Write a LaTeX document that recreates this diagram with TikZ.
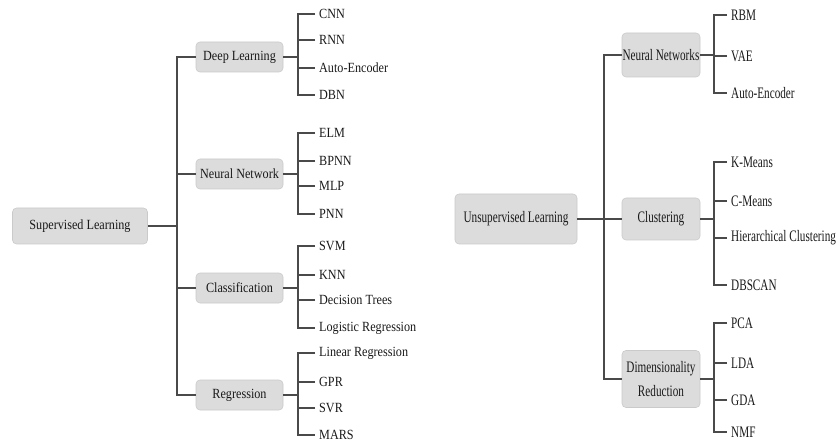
\documentclass[tikz,border=0pt]{standalone}
\usepackage{fontspec}
\setmainfont{Liberation Serif}
\newfontfamily\supfont[FakeStretch=0.87]{Liberation Serif}
\newfontfamily\unsupfont[FakeStretch=0.7]{Liberation Serif}
\definecolor{boxgray}{HTML}{DCDCDC}
\definecolor{linegray}{HTML}{4A4A4A}
\tikzset{%
  catbox/.style  = {shape=rectangle, rounded corners=4pt,%
                    fill=boxgray, draw=boxgray!92!black, line width=0.6pt,%
                    align=center, inner sep=0pt, text=black!90},%
  suproot/.style = {catbox, minimum width=135pt, minimum height=36pt},%
  supcat/.style  = {catbox, minimum width=87pt, minimum height=30pt},%
  unsroot/.style = {catbox, minimum width=122pt, minimum height=50pt},%
  unscat/.style  = {catbox, minimum width=78pt},%
  leaf/.style    = {anchor=west, inner sep=4pt, text=black!90},%
  link/.style    = {draw=linegray, line width=1.5pt}%
}

\begin{document}
\begin{tikzpicture}[x=1pt,y=-1pt]
  \useasboundingbox (0,0) rectangle (837,446);

  % supervised side
  \begin{scope}[font=\supfont\fontsize{14}{16}\selectfont]
    \node [suproot] (sup) at (80,226) {Supervised Learning};
    \node [supcat] (deep) at (239.5,57)  {Deep Learning};
    \node [supcat] (nnet) at (239.5,174) {Neural Network};
    \node [supcat] (clas) at (239.5,288) {Classification};
    \node [supcat] (regr) at (239.5,395) {Regression};
    \coordinate (sspine) at (177,0);
    \coordinate (dspine) at (298,0);

    \node [leaf] (cnn)  at (315,14)  {CNN};
    \node [leaf] (rnn)  at (315,40)  {RNN};
    \node [leaf] (aenc) at (315,68)  {Auto-Encoder};
    \node [leaf] (dbn)  at (315,95)  {DBN};
    \node [leaf] (elm)  at (315,133) {ELM};
    \node [leaf] (bpnn) at (315,161) {BPNN};
    \node [leaf] (mlp)  at (315,186) {MLP};
    \node [leaf] (pnn)  at (315,214) {PNN};
    \node [leaf] (svm)  at (315,246) {SVM};
    \node [leaf] (knn)  at (315,275) {KNN};
    \node [leaf] (dtree) at (315,300) {Decision Trees};
    \node [leaf] (logr) at (315,328) {Logistic Regression};
    \node [leaf] (linr) at (315,353) {Linear Regression};
    \node [leaf] (gpr)  at (315,382) {GPR};
    \node [leaf] (svr)  at (315,408) {SVR};
    \node [leaf] (mars) at (315,435) {MARS};
  \end{scope}

  \draw [link] (sup.east) -- (sspine |- sup.east);
  \draw [link] (deep.west) -| (sspine |- regr.west) -- (regr.west);
  \draw [link] (nnet.west) -- (sspine |- nnet.west);
  \draw [link] (clas.west) -- (sspine |- clas.west);

  \draw [link] (deep.east) -- (dspine |- deep.east);
  \draw [link] (cnn.west) -| (dspine |- dbn.west) -- (dbn.west);
  \draw [link] (rnn.west) -- (dspine |- rnn.west);
  \draw [link] (aenc.west) -- (dspine |- aenc.west);

  \draw [link] (nnet.east) -- (dspine |- nnet.east);
  \draw [link] (elm.west) -| (dspine |- pnn.west) -- (pnn.west);
  \draw [link] (bpnn.west) -- (dspine |- bpnn.west);
  \draw [link] (mlp.west) -- (dspine |- mlp.west);

  \draw [link] (clas.east) -- (dspine |- clas.east);
  \draw [link] (svm.west) -| (dspine |- logr.west) -- (logr.west);
  \draw [link] (knn.west) -- (dspine |- knn.west);
  \draw [link] (dtree.west) -- (dspine |- dtree.west);

  \draw [link] (regr.east) -- (dspine |- regr.east);
  \draw [link] (linr.west) -| (dspine |- mars.west) -- (mars.west);
  \draw [link] (gpr.west) -- (dspine |- gpr.west);
  \draw [link] (svr.west) -- (dspine |- svr.west);

  % unsupervised side
  \begin{scope}[font=\unsupfont\fontsize{16}{24}\selectfont]
    \node [unsroot] (uns) at (516,219) {Unsupervised Learning};
    \node [unscat, minimum height=44pt] (unnet) at (661,55)  {Neural Networks};
    \node [unscat, minimum height=42pt] (clus)  at (661,219) {Clustering};
    \node [unscat, minimum height=57pt] (dimr)  at (661,379) {Dimensionality\\Reduction};
    \coordinate (uspine) at (604,0);
    \coordinate (vspine) at (714,0);

    \node [leaf] (rbm)   at (727,15)  {RBM};
    \node [leaf] (vae)   at (727,56)  {VAE};
    \node [leaf] (uaenc) at (727,93)  {Auto-Encoder};
    \node [leaf] (kmean) at (727,162) {K-Means};
    \node [leaf] (cmean) at (727,201) {C-Means};
    \node [leaf] (hclus) at (727,238) {Hierarchical Clustering};
    \node [leaf] (dbscan) at (727,285) {DBSCAN};
    \node [leaf] (pca)   at (727,323) {PCA};
    \node [leaf] (lda)   at (727,363) {LDA};
    \node [leaf] (gda)   at (727,400) {GDA};
    \node [leaf] (nmf)   at (727,432) {NMF};
  \end{scope}

  \draw [link] (uns.east) -- (uns.east -| clus.west);
  \draw [link] (unnet.west) -| (uspine |- dimr.west) -- (dimr.west);

  \draw [link] (unnet.east) -- (vspine |- unnet.east);
  \draw [link] (rbm.west) -| (vspine |- uaenc.west) -- (uaenc.west);
  \draw [link] (vae.west) -- (vspine |- vae.west);

  \draw [link] (clus.east) -- (vspine |- clus.east);
  \draw [link] (kmean.west) -| (vspine |- dbscan.west) -- (dbscan.west);
  \draw [link] (cmean.west) -- (vspine |- cmean.west);
  \draw [link] (hclus.west) -- (vspine |- hclus.west);

  \draw [link] (dimr.east) -- (vspine |- dimr.east);
  \draw [link] (pca.west) -| (vspine |- nmf.west) -- (nmf.west);
  \draw [link] (lda.west) -- (vspine |- lda.west);
  \draw [link] (gda.west) -- (vspine |- gda.west);
\end{tikzpicture}
\end{document}
